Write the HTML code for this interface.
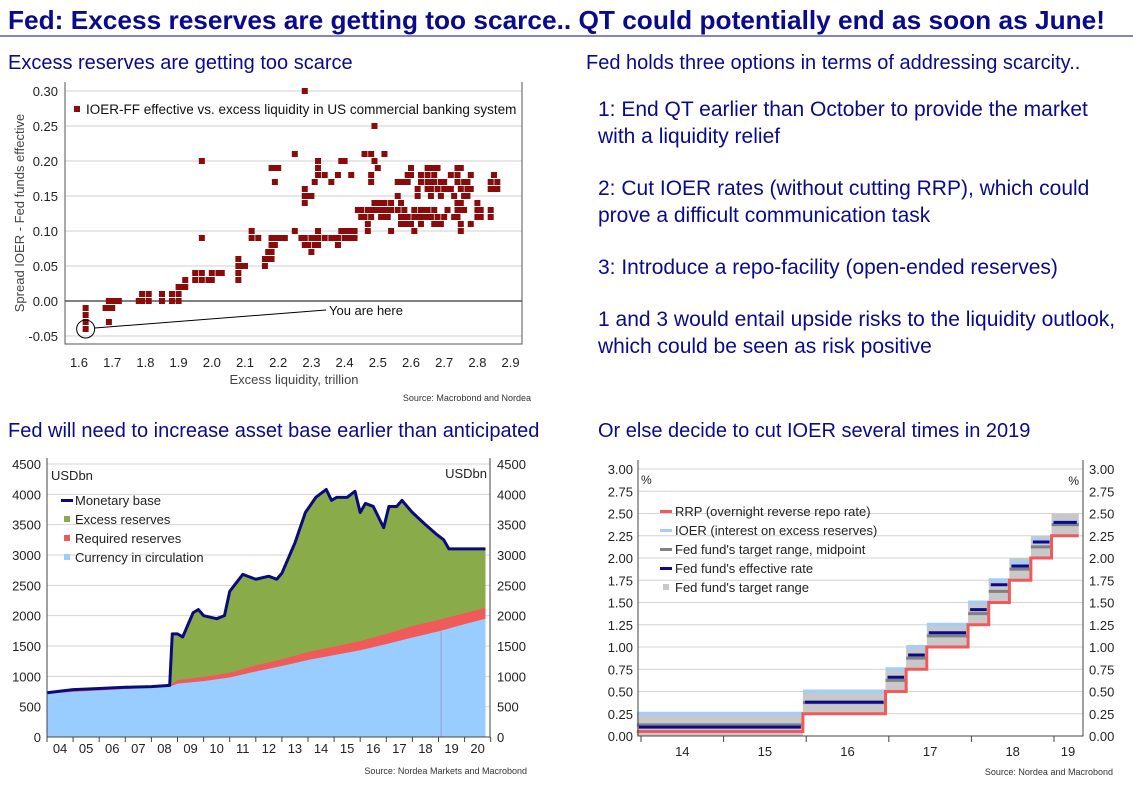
<!DOCTYPE html>
<html><head><meta charset="utf-8">
<style>
html,body{margin:0;padding:0;background:#fff;}
svg{display:block;font-family:"Liberation Sans",sans-serif;}
</style></head>
<body>
<svg id="page" width="1133" height="802" viewBox="0 0 1133 802" xmlns="http://www.w3.org/2000/svg">
<text x="8" y="29" font-size="26" font-weight="bold" fill="#0a0a8c" textLength="1097" lengthAdjust="spacingAndGlyphs">Fed: Excess reserves are getting too scarce.. QT could potentially end as soon as June!</text>
<line x1="0" y1="36" x2="1133" y2="36" stroke="#0a0a8c" stroke-width="1"/>
<text x="8" y="69" font-size="20" fill="#0a0a8c">Excess reserves are getting too scarce</text>
<text x="586" y="69" font-size="20" fill="#0a0a8c">Fed holds three options in terms of addressing scarcity..</text>
<g font-size="21" fill="#0a0a8c">
<text x="598" y="116">1: End QT earlier than October to provide the market</text>
<text x="598" y="143">with a liquidity relief</text>
<text x="598" y="195">2: Cut IOER rates (without cutting RRP), which could</text>
<text x="598" y="222">prove a difficult communication task</text>
<text x="598" y="274">3: Introduce a repo-facility (open-ended reserves)</text>
<text x="598" y="326">1 and 3 would entail upside risks to the liquidity outlook,</text>
<text x="598" y="353">which could be seen as risk positive</text>
</g>
<text x="8" y="437" font-size="20" fill="#0a0a8c">Fed will need to increase asset base earlier than anticipated</text>
<text x="598" y="437" font-size="20" fill="#0a0a8c">Or else decide to cut IOER several times in 2019</text>
<g id="scatter"></g>
<g id="base"></g>
<g id="rates"></g>
</svg>
<script>
// ---------- Scatter data ----------
const scatterX = [1.62,1.68,1.69,1.70,1.71,1.72,1.78,1.79,1.81,1.85,1.88,1.90,1.91,1.92,1.95,1.97,1.99,2.00,2.02,2.03,2.08,2.09,2.10,2.12,2.14,2.16,2.17,2.18,2.19,2.20,2.21,2.22,2.25,2.27,2.28,2.29,2.30,2.31,2.32,2.34,2.36,2.37,2.38,2.39,2.40,2.41,2.42,2.43,2.44,2.45,2.46,2.47,2.48,2.49,2.50,2.51,2.52,2.53,2.54,2.56,2.57,2.58,2.59,2.60,2.61,2.62,2.63,2.64,2.65,2.66,2.67,2.68,2.69,2.70,2.71,2.72,2.73,2.74,2.75,2.76,2.77,2.78,2.80,2.81,2.84,2.85,2.86];
const scatterY = [[-0.01,-0.02,-0.03,-0.04],[-0.01],[-0.01,0,-0.03],[0,-0.01],[0],[0],[0],[0.01,0],[0.01,0],[0.01,0],[0.01,0],[0.02,0.01,0],[0.02],[0.03,0.02],[0.04,0.03],[0.04,0.03,0.20,0.09],[0.03],[0.04,0.03],[0.04],[0.04],[0.06,0.05,0.04,0.03],[0.05],[0.05],[0.10,0.09],[0.09],[0.06,0.05],[0.07,0.06],[0.08,0.07,0.06,0.09,0.19],[0.09,0.08,0.17,0.19],[0.09,0.19],[0.09],[0.09],[0.10,0.21],[0.09],[0.30,0.16,0.15,0.14,0.08,0.09],[0.15,0.08],[0.07,0.15,0.09],[0.17,0.09,0.08],[0.20,0.19,0.18,0.10,0.09,0.08],[0.18,0.09],[0.17,0.09],[0.09],[0.18,0.09,0.08],[0.20,0.10],[0.20,0.10,0.09],[0.10,0.09],[0.18,0.10,0.09],[0.10,0.09],[0.13],[0.13,0.12],[0.21,0.12],[0.13,0.11,0.10],[0.21,0.18,0.17,0.13,0.12],[0.25,0.20,0.14,0.13],[0.19,0.14,0.13],[0.14,0.13,0.12],[0.21,0.14,0.13,0.12],[0.13,0.12],[0.14,0.13,0.10],[0.17,0.15,0.13],[0.17,0.14,0.12,0.11],[0.17,0.13,0.12,0.11],[0.18,0.17,0.12,0.11],[0.19,0.18,0.11],[0.13,0.12,0.10],[0.16,0.15,0.12],[0.18,0.17,0.13,0.12,0.11],[0.13,0.12],[0.19,0.18,0.17,0.16,0.13,0.12],[0.19,0.17,0.16,0.15,0.12],[0.19,0.18,0.17,0.13,0.11],[0.19,0.16,0.12,0.11],[0.17,0.15,0.11],[0.17,0.16,0.12],[0.16,0.13],[0.18,0.16],[0.15,0.12],[0.19,0.18,0.17,0.14,0.13,0.12],[0.19,0.16,0.14,0.13,0.11,0.10],[0.17,0.15,0.13],[0.17,0.16,0.15],[0.18,0.16,0.11],[0.14,0.13,0.12],[0.13,0.12],[0.17,0.16,0.13,0.12],[0.18,0.16],[0.17,0.16]];
const scatterXTicks = [1.6,1.7,1.8,1.9,2.0,2.1,2.2,2.3,2.4,2.5,2.6,2.7,2.8,2.9];
const scatterYTicks = [-0.05,0,0.05,0.10,0.15,0.20,0.25,0.30];

// ---------- Monetary base data ----------
const baseDates = [2004,2005,2006,2007,2008,2008.7,2008.8,2009.0,2009.2,2009.6,2009.8,2010.0,2010.5,2010.8,2011.0,2011.5,2012.0,2012.5,2012.8,2013.0,2013.5,2013.9,2014.3,2014.7,2014.9,2015.1,2015.5,2015.8,2016.0,2016.2,2016.5,2016.9,2017.1,2017.4,2017.6,2018.0,2018.5,2018.9,2019.2,2019.4,2020.8];
const monetaryBase = [730,780,800,820,830,850,1700,1700,1650,2050,2100,2000,1950,2000,2400,2680,2600,2650,2600,2700,3200,3700,3950,4080,3900,3950,3950,4050,3700,3850,3800,3450,3800,3800,3900,3700,3500,3350,3250,3100,3100];
const resDates = [2004,2008.7,2009,2010,2011,2012,2013,2014,2015,2016,2017,2018,2019,2020,2020.8];
const currency = [720,830,880,920,980,1080,1170,1270,1350,1430,1530,1640,1740,1860,1950];
const required = [10,20,60,70,80,100,110,130,140,150,170,190,190,180,180];
const baseYLabels = [0,500,1000,1500,2000,2500,3000,3500,4000,4500];
const baseXLabels = ['04','05','06','07','08','09','10','11','12','13','14','15','16','17','18','19','20'];

// ---------- Rates data ----------
const stepStart = [2013.95,2015.96,2016.96,2017.21,2017.46,2017.96,2018.21,2018.46,2018.72,2018.97];
const stepEnd   = [2015.96,2016.96,2017.21,2017.46,2017.96,2018.21,2018.46,2018.72,2018.97,2019.3];
const rangeLower = [0,0.25,0.5,0.75,1.0,1.25,1.5,1.75,2.0,2.25];
const rangeUpper = [0.25,0.5,0.75,1.0,1.25,1.5,1.75,2.0,2.25,2.5];
const ioerRate = [0.25,0.5,0.75,1.0,1.25,1.5,1.75,1.95,2.2,2.4];
const rrpRate = [0.05,0.25,0.5,0.75,1.0,1.25,1.5,1.75,2.0,2.25];
const effRate = [0.10,0.38,0.66,0.91,1.16,1.42,1.70,1.91,2.18,2.40];
const rateYLabels = [0,0.25,0.5,0.75,1.0,1.25,1.5,1.75,2.0,2.25,2.5,2.75,3.0];
const rateXLabels = ['14','15','16','17','18','19'];

const NS='http://www.w3.org/2000/svg';
function mk(parent,tag,attrs,text){const e=document.createElementNS(NS,tag);for(const k in attrs)e.setAttribute(k,attrs[k]);if(text!==undefined)e.textContent=text;parent.appendChild(e);return e;}

// ===== Scatter =====
(function(){
 const g=document.getElementById('scatter');
 const sx=v=>79+(v-1.6)*332, sy=v=>301-v*700;
 scatterYTicks.forEach(t=>{
  const l=mk(g,'line',{x1:65,x2:522,y1:sy(t),y2:sy(t),stroke:t===0?'#000':'#cfcfcf','stroke-width':1});
  
  
  const tx=mk(g,'text',{x:58,y:sy(t)+5,'font-size':13,'text-anchor':'end',fill:'#222'},t.toFixed(2));
  
  
 });
 mk(g,'path',{d:'M65 82 V344 H522 V82',fill:'none',stroke:'#555','stroke-width':1});
 scatterXTicks.forEach(t=>{
  const tx=mk(g,'text',{x:sx(t),y:367,'font-size':13,'text-anchor':'middle',fill:'#222'},t.toFixed(1));
  
  
 });
 scatterX.forEach((x,i)=>scatterY[i].forEach(y=>{
  const r=mk(g,'rect',{x:sx(x)-3,y:sy(y)-3,width:6,height:6,fill:'#8b0a0a'});
  
  
 }));
 const c=mk(g,'circle',{cx:sx(1.62),cy:sy(-0.04),r:9,fill:'none',stroke:'#000','stroke-width':1});
 
 
 mk(g,'line',{x1:sx(1.62)+9,y1:sy(-0.04)-1,x2:326,y2:310,stroke:'#000','stroke-width':1});
 const ya=mk(g,'text',{x:329,y:315,'font-size':13,fill:'#111'},'You are here');
 
 
 const lg=mk(g,'g',{});
 
 
 mk(lg,'rect',{x:74,y:106,width:6,height:6,fill:'#8b0a0a'});
 mk(lg,'text',{x:86,y:114,'font-size':13.5,fill:'#111'},'IOER-FF effective vs. excess liquidity in US commercial banking system');
 const yt=mk(g,'text',{x:0,y:0,'font-size':13,fill:'#444','text-anchor':'middle',transform:'translate(24,213) rotate(-90)'},'Spread IOER - Fed funds effective');
 
 
 const xt=mk(g,'text',{x:294,y:384,'font-size':13,fill:'#444','text-anchor':'middle'},'Excess liquidity, trillion');
 
 
 const src=mk(g,'text',{x:531,y:401,'font-size':9,fill:'#333','text-anchor':'end'},'Source: Macrobond and Nordea');
 
 
})();

// ===== Monetary base =====
(function(){
 const g=document.getElementById('base');
 const bx=t=>47+(t-2004)*26.1, by=v=>737-v*0.06067;
 baseYLabels.forEach(v=>{
  if(v>0){const l=mk(g,'line',{x1:47,x2:490,y1:by(v),y2:by(v),stroke:'#d4d4d4','stroke-width':1});
  
  }
  const a=mk(g,'text',{x:41,y:by(v)+5,'font-size':13,'text-anchor':'end',fill:'#222'},v);
  
  
  const b=mk(g,'text',{x:497,y:by(v)+5,'font-size':13,fill:'#222'},v);
  
  
 });
 function area(dates,vals,fill,name){
  let d='M'+bx(dates[0])+' '+by(0);
  dates.forEach((t,i)=>d+=' L'+bx(t)+' '+by(vals[i]));
  d+=' L'+bx(dates[dates.length-1])+' '+by(0)+' Z';
  const p=mk(g,'path',{d:d,fill:fill});
  
  
 }
 area(baseDates,monetaryBase,'#8aab4a','excess-reserves-area');
 area(resDates,currency.map((c,i)=>c+required[i]),'#f25a5a','required-reserves-area');
 area(resDates,currency,'#99ccff','currency-area');
 mk(g,'line',{x1:bx(2019.1),x2:bx(2019.1),y1:by(0),y2:by(1740),stroke:'#a0a0c0','stroke-width':1});
 const pl=mk(g,'polyline',{points:baseDates.map((t,i)=>bx(t)+','+by(monetaryBase[i])).join(' '),fill:'none',stroke:'#0a0a80','stroke-width':3,'stroke-linejoin':'round'});
 
 
 mk(g,'path',{d:'M47 458 V737 H490 V458',fill:'none',stroke:'#444','stroke-width':1});
 for(let y=2004;y<=2021;y++){mk(g,'line',{x1:bx(y),x2:bx(y),y1:737,y2:742,stroke:'#444'});}
 baseXLabels.forEach((s,i)=>{
  const t=mk(g,'text',{x:bx(2004+i+0.5),y:753,'font-size':13,'text-anchor':'middle',fill:'#222'},s);
  
  
 });
 mk(g,'text',{x:51,y:480,'font-size':13,fill:'#222'},'USDbn');
 mk(g,'text',{x:487,y:478,'font-size':13,fill:'#222','text-anchor':'end'},'USDbn');
 const lg=mk(g,'g',{'font-size':13,fill:'#222'});
 
 
 mk(lg,'rect',{x:61,y:499,width:12,height:3,fill:'#0a0a80'});
 mk(lg,'text',{x:75,y:505},'Monetary base');
 mk(lg,'rect',{x:64,y:516,width:6,height:6,fill:'#8aab4a'});
 mk(lg,'text',{x:75,y:524},'Excess reserves');
 mk(lg,'rect',{x:64,y:535,width:6,height:6,fill:'#f25a5a'});
 mk(lg,'text',{x:75,y:543},'Required reserves');
 mk(lg,'rect',{x:64,y:554,width:6,height:6,fill:'#99ccff'});
 mk(lg,'text',{x:75,y:562},'Currency in circulation');
 const src=mk(g,'text',{x:527,y:774,'font-size':9,fill:'#333','text-anchor':'end'},'Source: Nordea Markets and Macrobond');
 
 
})();

// ===== Rates =====
(function(){
 const g=document.getElementById('rates');
 const rx=t=>641+(t-2014)*82.6, ry=v=>736-v*89;
 rateYLabels.forEach(v=>{
  if(v>0){const l=mk(g,'line',{x1:638,x2:1083,y1:ry(v),y2:ry(v),stroke:'#d4d4d4','stroke-width':1});
  
  }
  const a=mk(g,'text',{x:633,y:ry(v)+5,'font-size':13,'text-anchor':'end',fill:'#222'},v.toFixed(2));
  
  
  const b=mk(g,'text',{x:1089,y:ry(v)+5,'font-size':13,fill:'#222'},v.toFixed(2));
  
  
 });
 stepStart.forEach((s,i)=>{
  const x1=rx(s),x2=rx(stepEnd[i]);
  const r=mk(g,'rect',{x:x1,y:ry(rangeUpper[i]),width:x2-x1,height:ry(rangeLower[i])-ry(rangeUpper[i]),fill:'#c8c8c8'});
  
  
  const io=mk(g,'line',{x1:x1,x2:x2,y1:ry(ioerRate[i]),y2:ry(ioerRate[i]),stroke:'#a8cdf2','stroke-width':4});
  
  
  const mid=(rangeLower[i]+rangeUpper[i])/2;
  const m=mk(g,'line',{x1:x1,x2:x2,y1:ry(mid),y2:ry(mid),stroke:'#808080','stroke-width':3});
  
  
  const e=mk(g,'line',{x1:x1+2,x2:x2-2,y1:ry(effRate[i]),y2:ry(effRate[i]),stroke:'#0a0a90','stroke-width':3});
  
  
 });
 let d='';
 stepStart.forEach((s,i)=>{d+=(i?' L':'M')+rx(s)+' '+ry(rrpRate[i])+' L'+rx(stepEnd[i])+' '+ry(rrpRate[i]);});
 const rp=mk(g,'path',{d:d,fill:'none',stroke:'#f05a5a','stroke-width':3});
 
 
 mk(g,'path',{d:'M638 460 V736 H1083 V460',fill:'none',stroke:'#444','stroke-width':1});
 for(let y=2014;y<=2019;y++){mk(g,'line',{x1:rx(y),x2:rx(y),y1:736,y2:742,stroke:'#444'});}
 rateXLabels.forEach((s,i)=>{
  const cx=i<5?rx(2014+i+0.5):rx(2019.17);
  const t=mk(g,'text',{x:cx,y:756,'font-size':13,'text-anchor':'middle',fill:'#222'},s);
  
  
 });
 mk(g,'text',{x:641,y:484,'font-size':12,fill:'#222'},'%');
 mk(g,'text',{x:1079,y:485,'font-size':12,fill:'#222','text-anchor':'end'},'%');
 const lg=mk(g,'g',{'font-size':13,fill:'#222'});
 
 
 const items=[['RRP (overnight reverse repo rate)','#f05a5a',3],['IOER (interest on excess reserves)','#a8cdf2',3],["Fed fund's target range, midpoint",'#808080',3],["Fed fund's effective rate",'#0a0a90',3]];
 items.forEach((it,i)=>{const y=512+i*19;mk(lg,'rect',{x:660,y:y-2,width:12,height:it[2],fill:it[1]});mk(lg,'text',{x:675,y:y+4},it[0]);});
 mk(lg,'rect',{x:663,y:584,width:6,height:6,fill:'#c8c8c8'});
 mk(lg,'text',{x:675,y:592},"Fed fund's target range");
 const src=mk(g,'text',{x:1113,y:775,'font-size':9,fill:'#333','text-anchor':'end'},'Source: Nordea and Macrobond');
 
 
})();
</script>
</body></html>
